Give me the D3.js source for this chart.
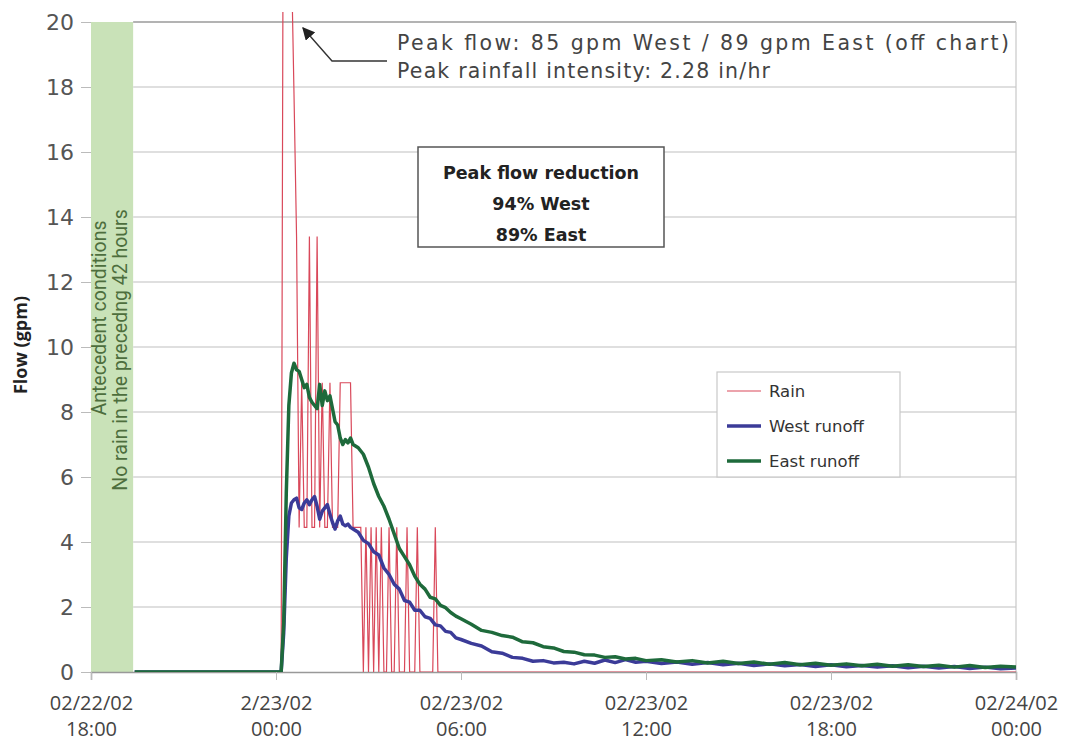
<!DOCTYPE html>
<html>
<head>
<meta charset="utf-8">
<script src="https://cdn.jsdelivr.net/npm/d3@7"></script>
<style>
  body { margin: 0; background: #fff; }
  svg { display: block; }
</style>
</head>
<body>
<div id="chart"></div>
<script>
// minutes after 02/23/02 00:00 for the runoff readings
const runoffMinutes = [-275, 0, 10, 15, 20, 25, 30, 35, 40, 45, 50, 55, 60, 65, 70, 75, 80, 85, 90, 95,
  100, 105, 110, 115, 120, 125, 130, 135, 140, 145, 150, 160, 170, 180, 190, 200, 210, 220, 230, 240,
  250, 260, 270, 280, 290, 300, 310, 320, 330, 340, 350, 360, 380, 400, 420, 440, 460, 480, 500, 520,
  540, 560, 580, 600, 620, 640, 660, 680, 700, 720, 750, 780, 810, 840, 870, 900, 930, 960, 990, 1020,
  1050, 1080, 1110, 1140, 1170, 1200, 1230, 1260, 1290, 1320, 1350, 1380, 1410, 1440];

const westRunoff = [0, 0, 0, 1.2, 3.5, 4.8, 5.2, 5.3, 5.35, 5.05, 5.0, 5.2, 5.3, 5.15, 5.3, 5.4, 5.1, 4.7, 4.95, 5.05,
  5.15, 4.85, 4.6, 4.4, 4.65, 4.8, 4.55, 4.5, 4.55, 4.45, 4.4, 4.3, 4.05, 3.95, 3.7, 3.6, 3.2, 3.0, 2.7, 2.55,
  2.2, 2.15, 1.9, 1.9, 1.7, 1.65, 1.45, 1.42, 1.25, 1.22, 1.05, 1.0, 0.88, 0.8, 0.62, 0.58, 0.45, 0.42, 0.33, 0.35,
  0.28, 0.3, 0.25, 0.33, 0.27, 0.37, 0.29, 0.38, 0.3, 0.33, 0.26, 0.31, 0.24, 0.29, 0.22, 0.27, 0.2, 0.25, 0.19, 0.23,
  0.17, 0.22, 0.16, 0.2, 0.15, 0.19, 0.13, 0.18, 0.12, 0.17, 0.11, 0.15, 0.1, 0.12];

const eastRunoff = [0, 0, 0, 1.5, 5.5, 8.2, 9.2, 9.5, 9.3, 9.25, 9.0, 8.75, 8.85, 8.45, 8.3, 8.2, 8.1, 8.85, 8.2, 8.65,
  8.35, 8.5, 8.1, 7.7, 7.6, 7.2, 7.0, 7.15, 7.05, 7.2, 7.0, 6.9, 6.7, 6.3, 5.8, 5.4, 5.1, 4.7, 4.25, 3.8,
  3.55, 3.3, 2.95, 2.7, 2.55, 2.3, 2.25, 2.05, 1.98, 1.83, 1.72, 1.64, 1.47, 1.28, 1.22, 1.12, 1.07, 0.93, 0.9, 0.78,
  0.74, 0.63, 0.61, 0.53, 0.52, 0.45, 0.47, 0.4, 0.42, 0.35, 0.38, 0.31, 0.35, 0.28, 0.33, 0.26, 0.31, 0.24, 0.29, 0.22,
  0.27, 0.21, 0.25, 0.19, 0.24, 0.18, 0.22, 0.17, 0.21, 0.15, 0.2, 0.14, 0.18, 0.15];

// rain, 5 minute readings from 02/23/02 00:00 (gpm equivalent)
const rainStep = 5;
const rainValues = [0, 0, 0, 30, 30, 30, 22, 17.8, 13.4, 4.45, 8.9, 4.45, 4.45, 13.4, 4.45, 4.45, 13.4, 4.45, 8.9, 4.45,
  4.45, 8.9, 4.45, 4.45, 4.45, 8.9, 8.9, 8.9, 8.9, 8.9, 4.45, 4.45, 4.45, 4.45, 0, 4.45, 0, 4.45, 0, 4.45,
  0, 4.45, 0, 0, 4.45, 0, 0, 4.45, 0, 0, 0, 4.45, 0, 0, 0, 4.45, 0, 0, 0, 0, 0, 0, 4.45, 0, 0];

const yTicks = [0, 2, 4, 6, 8, 10, 12, 14, 16, 18, 20];
const xTickLabels = [["02/22/02", "18:00"], ["2/23/02", "00:00"], ["02/23/02", "06:00"],
  ["02/23/02", "12:00"], ["02/23/02", "18:00"], ["02/24/02", "00:00"]];
const antecedentEnd = new Date(2002, 1, 22, 19, 22);

const margin = { top: 22, right: 57, bottom: 70, left: 91 },
      width = 1073 - margin.left - margin.right,
      height = 742 - margin.top - margin.bottom;

const origin = new Date(2002, 1, 23, 0, 0);
const toDate = m => new Date(origin.getTime() + m * 60000);

const west = runoffMinutes.map((m, i) => ({ t: toDate(m), v: westRunoff[i] }));
const east = runoffMinutes.map((m, i) => ({ t: toDate(m), v: eastRunoff[i] }));
const rain = rainValues.map((v, i) => ({ t: toDate(i * rainStep), v }));
rain.push({ t: new Date(2002, 1, 24, 0, 0), v: 0 });

const svgRoot = d3.select("#chart")
  .append("svg")
  .attr("width", 1073)
  .attr("height", 742);

const svg = svgRoot.append("g")
  .attr("transform", `translate(${margin.left},${margin.top})`);

const x = d3.scaleTime()
  .domain([new Date(2002, 1, 22, 18), new Date(2002, 1, 24, 0)])
  .range([0, width]);
const y = d3.scaleLinear().domain([0, 20]).range([height, 0]);

svg.append("defs").append("clipPath").attr("id", "clip")
  .append("rect").attr("x", 0).attr("y", -10).attr("width", width).attr("height", height + 10);

// antecedent band
svg.append("rect")
  .attr("x", x(x.domain()[0]))
  .attr("y", 0)
  .attr("width", x(antecedentEnd) - x(x.domain()[0]))
  .attr("height", height)
  .attr("fill", "#c9e2b8");

// grid
svg.append("g")
  .selectAll("line")
  .data(yTicks.filter(d => d > 0))
  .join("line")
  .attr("x1", x(antecedentEnd)).attr("x2", width)
  .attr("y1", d => y(d)).attr("y2", d => y(d))
  .attr("stroke", d => d === 20 ? "#9a9a9a" : "#d4d4d4")
  .attr("stroke-width", 1.6);

svg.append("line")
  .attr("x1", width).attr("x2", width).attr("y1", 0).attr("y2", height)
  .attr("stroke", "#c8c8c8").attr("stroke-width", 1.2);

// y axis
const yAxis = svg.append("g")
  .call(d3.axisLeft(y).tickValues(yTicks).tickSize(10).tickPadding(7));
yAxis.select(".domain").remove();
yAxis.selectAll(".tick line").attr("stroke", "#bbb");
yAxis.selectAll(".tick text")
  .attr("font-family", "DejaVu Sans, sans-serif")
  .attr("font-size", 22)
  .attr("fill", "#555");

// x axis
const xTicks = d3.range(6).map(i => new Date(2002, 1, 22, 18 + i * 6));
const xAxis = svg.append("g")
  .attr("transform", `translate(0,${height})`)
  .call(d3.axisBottom(x).tickValues(xTicks).tickSize(8).tickFormat(""));
xAxis.select(".domain").attr("stroke", "#999").attr("stroke-width", 1.5);
xAxis.selectAll(".tick line").attr("stroke", "#bbb");
xAxis.selectAll(".tick").each(function (d, i) {
  const t = d3.select(this).append("text")
    .attr("fill", "#444")
    .attr("font-family", "Open Sans, sans-serif")
    .attr("font-size", 20)
    .attr("text-anchor", "middle");
  t.append("tspan").attr("x", 0).attr("y", 38).text(xTickLabels[i][0]);
  t.append("tspan").attr("x", 0).attr("y", 64).text(xTickLabels[i][1]);
});

// axis title
svg.append("text")
  .attr("transform", "rotate(-90)")
  .attr("x", -323)
  .attr("y", -64)
  .attr("text-anchor", "middle")
  .attr("font-family", "Open Sans, sans-serif")
  .attr("font-weight", "bold")
  .attr("font-size", 18)
  .attr("fill", "#222")
  .text("Flow (gpm)");

// band text
const bandMid = (x(x.domain()[0]) + x(antecedentEnd)) / 2;
svg.append("text")
  .attr("transform", `translate(${bandMid - 6},${296}) rotate(-90)`)
  .attr("text-anchor", "middle")
  .attr("font-family", "Roboto, sans-serif")
  .attr("font-size", 19.5)
  .attr("fill", "#4d6e3d")
  .text("Antecedent conditions");
svg.append("text")
  .attr("transform", `translate(${bandMid + 15},${328}) rotate(-90)`)
  .attr("text-anchor", "middle")
  .attr("font-family", "Roboto, sans-serif")
  .attr("font-size", 19.5)
  .attr("fill", "#4d6e3d")
  .text("No rain in the precedng 42 hours");

// lines
const line = d3.line().x(d => x(d.t)).y(d => y(d.v));
const plot = svg.append("g").attr("clip-path", "url(#clip)");

plot.append("path")
  .datum(rain)
  .attr("fill", "none")
  .attr("stroke", "#d9485a")
  .attr("stroke-width", 1.2)
  .attr("d", line);

plot.append("path")
  .datum(west)
  .attr("fill", "none")
  .attr("stroke", "#3b3b98")
  .attr("stroke-width", 3.5)
  .attr("stroke-linejoin", "round")
  .attr("d", line);

plot.append("path")
  .datum(east)
  .attr("fill", "none")
  .attr("stroke", "#1e6a3b")
  .attr("stroke-width", 3.5)
  .attr("stroke-linejoin", "round")
  .attr("d", line);

// peak annotation
svg.append("defs").append("marker")
  .attr("id", "arrow")
  .attr("viewBox", "0 0 10 10")
  .attr("refX", 9).attr("refY", 5)
  .attr("markerWidth", 9).attr("markerHeight", 9)
  .attr("orient", "auto")
  .append("path").attr("d", "M0,0 L10,5 L0,10 z").attr("fill", "#222");

svg.append("path")
  .attr("d", `M${387 - margin.left},${61 - margin.top} L${332 - margin.left},${61 - margin.top} L${303 - margin.left},${28 - margin.top}`)
  .attr("fill", "none")
  .attr("stroke", "#333")
  .attr("stroke-width", 1.4)
  .attr("marker-end", "url(#arrow)");

const note = svg.append("g")
  .attr("font-family", "DejaVu Sans, sans-serif")
  .attr("font-size", 20.5)
  .attr("fill", "#444");
note.append("text").attr("x", 397 - margin.left).attr("y", 50 - margin.top)
  .attr("textLength", 612).attr("lengthAdjust", "spacing")
  .text("Peak flow: 85 gpm West / 89 gpm East (off chart)");
note.append("text").attr("x", 397 - margin.left).attr("y", 78 - margin.top)
  .attr("textLength", 373).attr("lengthAdjust", "spacing")
  .text("Peak rainfall intensity: 2.28 in/hr");

// reduction box
const box = svg.append("g").attr("transform", `translate(${418 - margin.left},${147 - margin.top})`);
box.append("rect")
  .attr("width", 246).attr("height", 100)
  .attr("fill", "#fff").attr("stroke", "#555").attr("stroke-width", 1.5);
const boxText = box.append("text")
  .attr("text-anchor", "middle")
  .attr("font-family", "DejaVu Sans, sans-serif")
  .attr("font-weight", "bold")
  .attr("font-size", 17.5)
  .attr("fill", "#222");
["Peak flow reduction", "94% West", "89% East"].forEach((s, i) => {
  boxText.append("tspan").attr("x", 123).attr("y", 32 + i * 31).text(s);
});

// legend
const legendItems = [
  { label: "Rain", color: "#d9485a", w: 1.2 },
  { label: "West runoff", color: "#3b3b98", w: 3.5 },
  { label: "East runoff", color: "#1e6a3b", w: 3.5 }
];
const legend = svg.append("g").attr("transform", `translate(${717 - margin.left},${372 - margin.top})`);
legend.append("rect")
  .attr("width", 183).attr("height", 105)
  .attr("fill", "#fff").attr("stroke", "#c8c8c8").attr("stroke-width", 1.2);
legendItems.forEach((d, i) => {
  const g = legend.append("g").attr("transform", `translate(0,${19 + i * 35})`);
  g.append("line").attr("x1", 10).attr("x2", 44).attr("y1", 0).attr("y2", 0)
    .attr("stroke", d.color).attr("stroke-width", d.w);
  g.append("text").attr("x", 52).attr("y", 6)
    .attr("font-family", "DejaVu Sans, sans-serif")
    .attr("font-size", 16.5)
    .attr("fill", "#333")
    .text(d.label);
});
</script>
</body>
</html>
